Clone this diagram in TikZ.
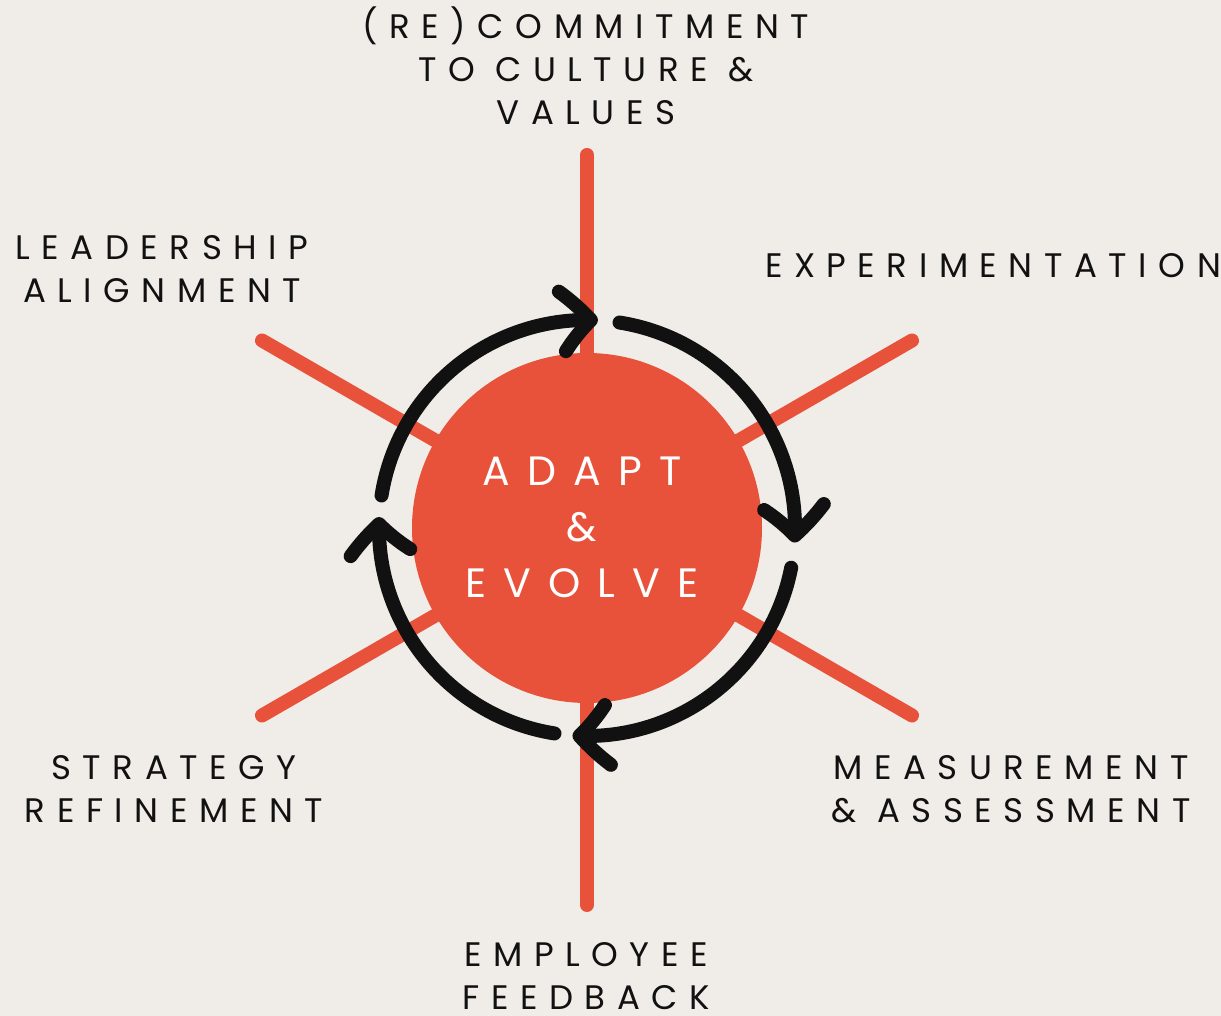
\documentclass[tikz,border=0pt]{standalone}
\usepackage{fontspec}
\setmainfont{Poppins}
\newfontfamily\labelfont[LetterSpace=34]{Poppins}
\newfontfamily\hubfont[LetterSpace=42]{Poppins}
\usetikzlibrary{arrows.meta,bending}
\definecolor{bg}{HTML}{F0EDE8}
\definecolor{accent}{HTML}{E8523A}
\definecolor{ink}{HTML}{111111}
\tikzset{
  spoke/.style={accent, line width=14pt, line cap=round},
  cyc/.style={ink, line width=14pt, line cap=round,
    -{Straight Barb[length=29pt,width=60pt,round,bend]}},
  lbl/.style={font=\labelfont\fontsize{34}{43}\selectfont, text=ink, align=center, inner sep=0pt},
  hubtxt/.style={font=\hubfont\fontsize{41}{56}\selectfont, text=white, align=center, inner sep=0pt}
}
\begin{document}
\begin{tikzpicture}[x=1pt,y=1pt]
\fill[bg] (0,0) rectangle (1221,1016);
\useasboundingbox (0,0) rectangle (1221,1016);
\coordinate (c) at (587,488);
\coordinate (sN) at (587,861);
\coordinate (sS) at (587,111);
\coordinate (sNW) at (262,675.5);
\coordinate (sNE) at (912,675.5);
\coordinate (sSW) at (262,300.5);
\coordinate (sSE) at (912,300.5);
\draw[spoke] (sN) -- (sS);
\draw[spoke] (sNW) -- (sSE);
\draw[spoke] (sNE) -- (sSW);
\node[circle, fill=accent, minimum size=350pt, inner sep=0pt] (hub) at (c) {};
\node[hubtxt] (hubtext) at (582,488.5) {ADAPT\\\&\\EVOLVE};
\draw[cyc] ([shift={(171:208)}]c) arc[start angle=171, end angle=87, radius=208];
\draw[cyc] ([shift={(81:208)}]c) arc[start angle=81, end angle=-4, radius=208];
\draw[cyc] ([shift={(-11:208)}]c) arc[start angle=-11, end angle=-94, radius=208];
\draw[cyc] ([shift={(-99:208)}]c) arc[start angle=-99, end angle=-183, radius=208];
\node[lbl] (culture) at (586,950) {(RE)COMMITMENT\\TO CULTURE \&\\VALUES};
\node[lbl] (leader) at (162,747) {LEADERSHIP\\ALIGNMENT};
\node[lbl] (exper) at (993,750) {EXPERIMENTATION};
\node[lbl] (strategy) at (174,226.5) {STRATEGY\\REFINEMENT};
\node[lbl] (measure) at (1011,226.5) {MEASUREMENT\\\& ASSESSMENT};
\node[lbl] (employee) at (586,40) {EMPLOYEE\\FEEDBACK};
\end{tikzpicture}
\end{document}
